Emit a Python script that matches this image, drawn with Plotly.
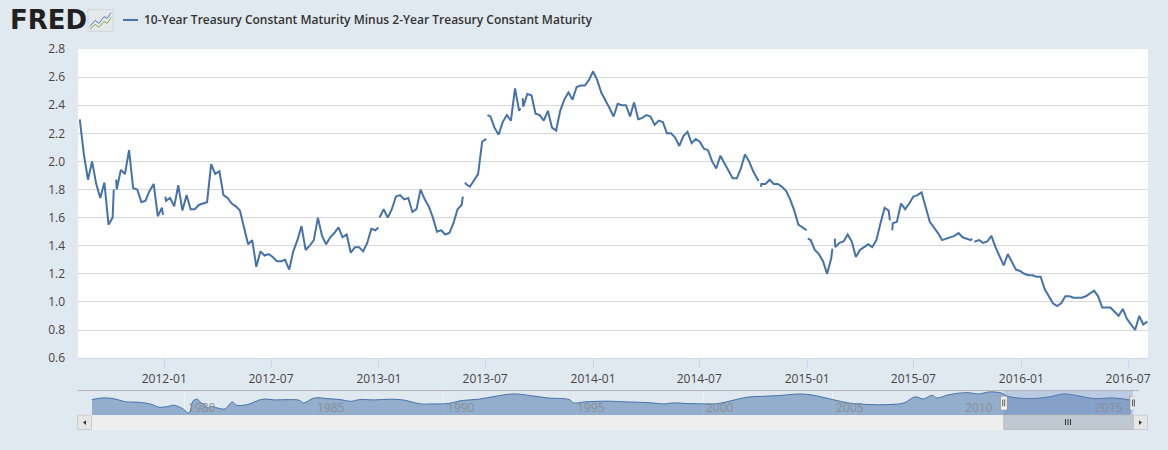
import pandas as pd
import plotly.graph_objects as go

# weekly readings of the daily spread, 2011-08 .. 2016-08
week_start = "2011-08-10"
spread = [
    2.30, 2.05, 1.87, 2.00, 1.84, 1.74, 1.85, 1.55, 1.60, 1.80,
    1.94, 1.91, 2.08, 1.81, 1.80, 1.71, 1.72, 1.79, 1.84, 1.61,
    1.67, 1.72, 1.74, 1.68, 1.83, 1.65, 1.76, 1.66, 1.66, 1.69,
    1.70, 1.71, 1.98, 1.91, 1.93, 1.76, 1.74, 1.70, 1.68, 1.65,
    1.53, 1.41, 1.44, 1.25, 1.36, 1.33, 1.34, 1.32, 1.29, 1.29,
    1.30, 1.23, 1.36, 1.44, 1.54, 1.37, 1.40, 1.44, 1.60, 1.47,
    1.41, 1.46, 1.49, 1.53, 1.46, 1.48, 1.35, 1.39,
    1.39, 1.36, 1.42, 1.52, 1.51, 1.53, 1.66, 1.60, 1.66, 1.75,
    1.76, 1.73, 1.74, 1.64, 1.66, 1.80, 1.73, 1.68, 1.60, 1.50,
    1.51, 1.48, 1.49, 1.56, 1.66, 1.69, 1.84, 1.82, 1.87, 1.91,
    2.14, 2.15, 2.32, 2.24, 2.19, 2.28, 2.33, 2.29, 2.52, 2.36,
    2.39, 2.48, 2.47, 2.34, 2.33, 2.29, 2.36, 2.24, 2.22, 2.36,
    2.44, 2.49, 2.44, 2.53, 2.54, 2.54, 2.58, 2.64, 2.58, 2.49,
    2.44, 2.38, 2.32, 2.41, 2.40,
    2.40, 2.32, 2.42, 2.30, 2.31, 2.33, 2.32, 2.26, 2.29, 2.28,
    2.20, 2.20, 2.17, 2.11, 2.18, 2.21, 2.13, 2.16, 2.14, 2.09,
    2.08, 2.00, 1.95, 2.04, 1.99, 1.94, 1.88, 1.88, 1.95, 2.05,
    2.00, 1.93, 1.88, 1.84, 1.84, 1.87, 1.84, 1.84, 1.82, 1.79,
    1.73, 1.65, 1.55, 1.53, 1.50, 1.44, 1.37, 1.34, 1.29, 1.20,
    1.31, 1.39, 1.42, 1.43, 1.48, 1.43, 1.32, 1.37, 1.39, 1.41,
    1.39, 1.44, 1.56, 1.67, 1.65, 1.56,
    1.57, 1.70, 1.66, 1.70, 1.75, 1.76, 1.78, 1.67, 1.57, 1.53,
    1.49, 1.44, 1.45, 1.46, 1.47, 1.49, 1.46, 1.45, 1.44, 1.43,
    1.44, 1.42, 1.43, 1.47, 1.39, 1.32, 1.26, 1.34, 1.28, 1.23,
    1.22, 1.20, 1.19, 1.19, 1.18, 1.18, 1.09, 1.04, 0.99, 0.97,
    0.99, 1.04, 1.04, 1.03, 1.03, 1.03, 1.04, 1.06, 1.08, 1.04,
    0.96, 0.96, 0.96, 0.93, 0.90, 0.95, 0.88, 0.84, 0.80, 0.90,
    0.84, 0.86,
]
# market holidays (no value -> break in the line) with the readings either side
holidays = [
    "2011-10-10", "2012-01-02", "2013-01-01", "2013-05-27", "2013-07-04",
    "2013-09-02", "2014-10-13", "2015-01-01", "2015-02-16", "2015-05-25",
    "2015-10-12",
]
before_holiday = [1.80, 1.62, 1.53, 1.75, 2.16, 2.38, 1.86, 1.51, 1.38, 1.58, 1.45]
after_holiday = [1.87, 1.75, 1.60, 1.85, 2.33, 2.45, 1.82, 1.45, 1.45, 1.51, 1.43]

# navigator: full history since 1976
nav_dates = [
    "1976-06", "1976-11", "1977-04", "1977-10", "1978-04", "1978-10", "1979-01",
    "1979-05", "1979-08", "1979-12", "1980-03", "1980-05", "1980-07", "1980-08",
    "1980-10", "1980-12", "1981-01", "1981-04", "1981-06", "1981-08", "1981-11",
    "1982-01", "1982-06", "1983-01", "1983-07", "1984-01", "1984-06", "1984-08",
    "1985-01", "1985-07", "1986-01", "1986-06", "1986-10", "1987-05", "1987-12",
    "1988-06", "1989-02", "1989-08", "1990-03", "1990-09", "1991-05", "1991-12",
    "1992-09", "1993-05", "1994-01", "1994-11", "1995-01", "1995-06", "1996-02",
    "1996-06", "1997-02", "1997-11", "1998-07", "1998-11", "1999-06", "2000-02",
    "2000-07", "2001-01", "2001-09", "2002-05", "2002-12", "2003-10", "2004-04",
    "2005-01", "2005-08", "2006-06", "2007-03", "2007-10", "2008-03", "2008-07",
    "2008-11", "2009-01", "2009-07", "2010-03", "2010-09", "2011-01", "2011-07",
    "2011-10", "2012-08", "2013-05", "2013-12", "2014-06", "2015-02", "2015-11",
    "2016-07",
]
nav_values = [
    0.97, 1.39, 1.22, 0.38, 0.30, -0.29, -0.97,
    -0.80, -0.46, -1.31, -2.41, 0.72, 1.06, 0.38,
    -0.29, -1.14, -0.80, -1.14, -1.39, -1.31, 0.38,
    -0.46, -0.29, 1.06, 0.89, 0.97, 0.80, 0.13,
    1.39, 1.22, 0.97, 0.55, 0.97, 0.89, 1.06,
    0.89, -0.12, -0.12, -0.04, 0.72, 1.06, 1.73,
    2.41, 1.99, 1.39, 0.97, 0.13, 0.38, 0.55,
    0.55, 0.38, 0.21, -0.12, 0.13, -0.04, -0.12,
    -0.12, 0.55, 1.56, 1.82, 1.99, 2.41, 2.07,
    0.97, 0.13, -0.29, -0.29, 0.13, 1.65, 1.14,
    2.07, 1.39, 2.24, 2.74, 2.41, 2.91, 2.66,
    1.82, 1.22, 1.65, 2.41, 1.99, 1.22, 1.39,
    0.80,
]
nav_years = ["1980", "1985", "1990", "1995", "2000", "2005", "2010", "2015"]

TITLE = "10-Year Treasury Constant Maturity Minus 2-Year Treasury Constant Maturity"
BLUE = "#4572A7"
BG = "#e1e9f0"
FONT = "Open Sans"
NAV_FLOOR = -3.0
NAV_CEIL = 3.25
VIEW = ["2011-08-07", "2016-08-04"]


def px(x):
    return (x - 78) / 1070


def py(y):
    return (436 - y) / 387


weekly = pd.DataFrame({"date": pd.date_range(week_start, periods=len(spread), freq="7D"),
                       "value": spread})
hol = pd.to_datetime(holidays)
bday = pd.offsets.BDay(1)
around = pd.concat([
    pd.DataFrame({"date": [d - bday for d in hol], "value": before_holiday}),
    pd.DataFrame({"date": hol, "value": [None] * len(hol)}),
    pd.DataFrame({"date": [d + bday for d in hol], "value": after_holiday}),
])
df = pd.concat([around, weekly]).drop_duplicates("date", keep="first").sort_values("date")

nav_x = pd.to_datetime(nav_dates)

fig = go.Figure()
fig.add_trace(go.Scatter(
    x=df["date"], y=df["value"], mode="lines", connectgaps=False,
    line=dict(color=BLUE, width=2), hoverinfo="skip", showlegend=False,
))
# navigator baseline + area
fig.add_trace(go.Scatter(
    x=nav_x, y=[NAV_FLOOR] * len(nav_x), mode="lines", line=dict(width=0),
    xaxis="x2", yaxis="y2", showlegend=False, hoverinfo="skip",
))
fig.add_trace(go.Scatter(
    x=nav_x, y=nav_values, mode="lines", fill="tonexty",
    fillcolor="rgba(69,114,167,0.5)", line=dict(color=BLUE, width=1, shape="spline"),
    xaxis="x2", yaxis="y2", showlegend=False, hoverinfo="skip",
))

shapes = [
    # navigator background
    dict(type="rect", xref="x2 domain", yref="y2 domain", x0=0, x1=1, y0=0, y1=1,
         fillcolor=BG, line=dict(width=0), layer="below"),
    # selected window mask
    dict(type="rect", xref="x2", yref="y2 domain", x0=VIEW[0], x1=VIEW[1], y0=0, y1=1,
         fillcolor="rgba(102,133,194,0.3)", line=dict(width=0), layer="above"),
    # navigator outline
    dict(type="line", xref="paper", yref="paper", x0=px(77.7), x1=px(1139), y0=py(396), y1=py(396),
         line=dict(color="#b2b1b6", width=1)),
    # scrollbar track
    dict(type="rect", xref="paper", yref="paper", x0=px(77.5), x1=px(1147.5), y0=py(436), y1=py(421),
         fillcolor="#eeeeee", line=dict(width=0)),
    # left button
    dict(type="rect", xref="paper", yref="paper", x0=px(77.5), x1=px(91.5), y0=py(435.5), y1=py(421),
         fillcolor="#e6e6e6", line=dict(color="#cccccc", width=1)),
    dict(type="path", xref="paper", yref="paper",
         path=f"M {px(83)},{py(428.5)} L {px(86)},{py(426)} L {px(86)},{py(431)} Z",
         fillcolor="#333333", line=dict(width=0)),
    # right button
    dict(type="rect", xref="paper", yref="paper", x0=px(1133.5), x1=px(1147.5), y0=py(435.5), y1=py(421),
         fillcolor="#e6e6e6", line=dict(color="#cccccc", width=1)),
    dict(type="path", xref="paper", yref="paper",
         path=f"M {px(1142)},{py(428.5)} L {px(1139)},{py(426)} L {px(1139)},{py(431)} Z",
         fillcolor="#333333", line=dict(width=0)),
    # scrollbar thumb
    dict(type="rect", xref="x2", yref="paper", x0=VIEW[0], x1=VIEW[1], y0=py(435.5), y1=py(421),
         fillcolor="#bfc8d1", line=dict(color="#bbbbbb", width=1)),
]
# grip lines on the thumb
for gx in (1065.5, 1068, 1070.5):
    shapes.append(dict(type="line", xref="paper", yref="paper", x0=px(gx), x1=px(gx),
                       y0=py(431), y1=py(425), line=dict(color="#333333", width=1)))
# navigator handles
for hx in VIEW:
    shapes.append(dict(type="rect", xref="x2", yref="paper", x0=hx, x1=hx, y0=py(416), y1=py(401.5),
                       line=dict(color="#999999", width=8)))
    shapes.append(dict(type="rect", xref="x2", yref="paper", x0=hx, x1=hx, y0=py(415.5), y1=py(402),
                       line=dict(color="#f2f2f2", width=6)))
for hx in (1003.7, 1133.4):
    for dx in (-1, 1):
        shapes.append(dict(type="line", xref="paper", yref="paper", x0=px(hx + dx), x1=px(hx + dx),
                           y0=py(412), y1=py(405), line=dict(color="#333333", width=0.8)))
# legend swatch
shapes.append(dict(type="line", xref="paper", yref="paper", x0=px(123), x1=px(138),
                   y0=py(19.5), y1=py(19.5), line=dict(color=BLUE, width=2)))
# FRED logo icon
shapes.append(dict(type="rect", xref="paper", yref="paper", x0=px(88), x1=px(113), y0=py(31), y1=py(9),
                   fillcolor="#e6e9ec", line=dict(color="#cfd4d8", width=1)))
shapes.append(dict(type="path", xref="paper", yref="paper",
                   path=f"M {px(90)},{py(26)} L {px(95)},{py(20)} L {px(99)},{py(23)} "
                        f"L {px(104)},{py(16)} L {px(107)},{py(18)} L {px(111)},{py(12)}",
                   line=dict(color="#5a7fb8", width=1)))
shapes.append(dict(type="path", xref="paper", yref="paper",
                   path=f"M {px(90)},{py(29)} L {px(95)},{py(24)} L {px(99)},{py(27)} "
                        f"L {px(104)},{py(21)} L {px(107)},{py(23)} L {px(111)},{py(17)}",
                   line=dict(color="#7cb342", width=1)))

annotations = [
    dict(text="<b>FRED</b>", xref="paper", yref="paper", x=px(8), y=py(20), xanchor="left",
         yanchor="middle", showarrow=False,
         font=dict(family="DejaVu Sans", size=26, color="#231f20")),
    dict(text=TITLE, xref="paper", yref="paper", x=px(142), y=py(19.5), xanchor="left",
         yanchor="middle", showarrow=False,
         font=dict(family=FONT, size=12, color="#333333", weight=600)),
]
for yr in nav_years:
    annotations.append(dict(text=yr, xref="x2", yref="paper", x=f"{yr}-01-01", y=py(413),
                            xanchor="left", yanchor="middle", xshift=1, showarrow=False,
                            font=dict(family=FONT, size=12, color="#8a8f96")))

fig.update_layout(
    width=1168, height=450,
    margin=dict(l=78, r=20, t=49, b=14),
    paper_bgcolor=BG, plot_bgcolor="white",
    font=dict(family=FONT, size=12, color="#444444"),
    xaxis=dict(
        type="date", range=VIEW, domain=[0, 1], anchor="y",
        tick0="2012-01-01", dtick="M6", tickformat="%Y-%m",
        ticks="outside", ticklen=9, tickcolor="#ccd6eb",
        showline=True, linecolor="#ccd6eb", showgrid=False,
        tickfont=dict(size=12, color="#444444"),
    ),
    yaxis=dict(
        range=[0.6, 2.8], dtick=0.2, tickformat=".1f", domain=[py(363), 1], anchor="x",
        gridcolor="#d8d8d8", zeroline=False, ticklabelstandoff=12,
        tickfont=dict(size=12, color="#444444"),
    ),
    xaxis2=dict(
        type="date", range=["1976-06-01", "2016-08-05"], domain=[px(91.8), px(1133.4)],
        anchor="y2", dtick="M60", tick0="1980-01-01", showticklabels=False,
        showgrid=True, gridcolor="#eef2f6", zeroline=False,
    ),
    yaxis2=dict(
        range=[NAV_FLOOR, NAV_CEIL], domain=[py(421), py(396)], anchor="x2",
        showgrid=False, showticklabels=False, zeroline=False,
    ),
    shapes=shapes,
    annotations=annotations,
)

fig.write_html("out.html", config={"displayModeBar": False},
               post_script="document.body.style.margin='0';")
